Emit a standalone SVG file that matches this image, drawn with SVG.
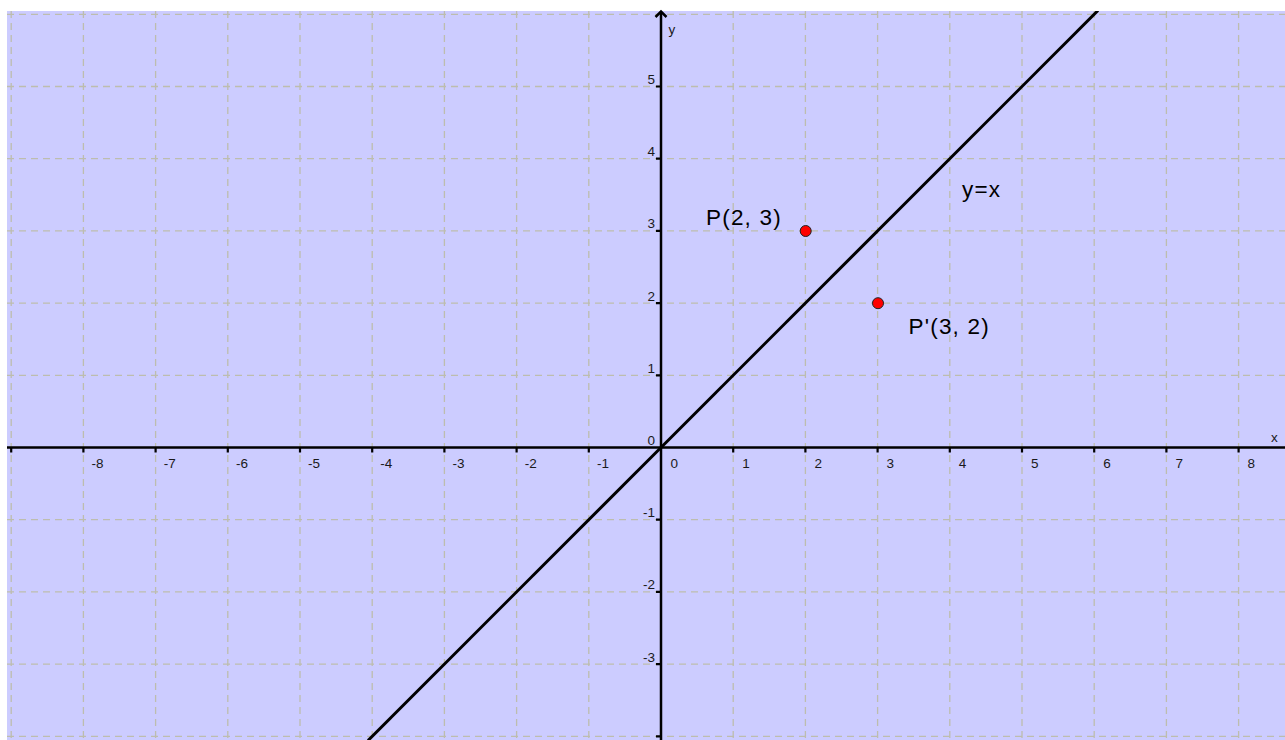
<svg xmlns="http://www.w3.org/2000/svg" width="1285" height="740" viewBox="0 0 1285 740">
<style>
.grid{stroke:#bdbdae;stroke-width:1.3;stroke-dasharray:7,5;fill:none}
.axis{stroke:#000;stroke-width:2.5;fill:none}
.tick{stroke:#000;stroke-width:2.2}
.tl{font-family:"Liberation Sans",Arial,sans-serif;font-size:13.5px;fill:#1a1a1a}
.lbl{font-family:"Liberation Sans",Arial,sans-serif;font-size:22.5px;fill:#000;letter-spacing:1.2px}
.pt{fill:#ff0000;stroke:#222;stroke-width:1}
</style>
<defs>
<clipPath id="plot"><rect x="7" y="11" width="1278" height="729"/></clipPath>
</defs>
<rect width="1285" height="740" fill="#ffffff"/>
<rect x="7" y="11" width="1278" height="729" fill="#ccccff"/>
<g id="grid">
<path class="grid" d="M11.2 11V740M83.4 11V740M155.6 11V740M227.8 11V740M300 11V740M372.2 11V740M444.4 11V740M516.6 11V740M588.8 11V740M733.2 11V740M805.4 11V740M877.6 11V740M949.8 11V740M1022 11V740M1094.2 11V740M1166.4 11V740M1238.6 11V740"/>
<path class="grid" d="M7 14.3H1285M7 86.5H1285M7 158.7H1285M7 230.9H1285M7 303.1H1285M7 375.3H1285M7 519.7H1285M7 591.9H1285M7 664.1H1285M7 736.3H1285"/>
</g>
<g id="axes">
<path class="axis" d="M7 447.5H1285"/>
<path class="axis" d="M661 12V740"/>
<polyline class="axis" points="655.5,17 661,11.5 666.5,17"/>
<path class="tick" d="M11.2 447.5v5M83.4 447.5v5M155.6 447.5v5M227.8 447.5v5M300 447.5v5M372.2 447.5v5M444.4 447.5v5M516.6 447.5v5M588.8 447.5v5M733.2 447.5v5M805.4 447.5v5M877.6 447.5v5M949.8 447.5v5M1022 447.5v5M1094.2 447.5v5M1166.4 447.5v5M1238.6 447.5v5"/>
<path class="tick" d="M661 86.5h-5M661 158.7h-5M661 230.9h-5M661 303.1h-5M661 375.3h-5M661 519.7h-5M661 591.9h-5M661 664.1h-5M661 736.3h-5"/>
<text class="tl" x="1271" y="442">x</text>
<text class="tl" x="668.5" y="34">y</text>
<g id="xlabels">
<text class="tl" x="91.5" y="468">-8</text>
<text class="tl" x="163.7" y="468">-7</text>
<text class="tl" x="235.9" y="468">-6</text>
<text class="tl" x="308.1" y="468">-5</text>
<text class="tl" x="380.3" y="468">-4</text>
<text class="tl" x="452.5" y="468">-3</text>
<text class="tl" x="524.7" y="468">-2</text>
<text class="tl" x="596.9" y="468">-1</text>
<text class="tl" x="670.5" y="468">0</text>
<text class="tl" x="742.2" y="468">1</text>
<text class="tl" x="814.4" y="468">2</text>
<text class="tl" x="886.6" y="468">3</text>
<text class="tl" x="958.8" y="468">4</text>
<text class="tl" x="1031" y="468">5</text>
<text class="tl" x="1103.2" y="468">6</text>
<text class="tl" x="1175.4" y="468">7</text>
<text class="tl" x="1247.6" y="468">8</text>
</g>
<g id="ylabels" text-anchor="end">
<text class="tl" x="655" y="84">5</text>
<text class="tl" x="655" y="156.2">4</text>
<text class="tl" x="655" y="228.4">3</text>
<text class="tl" x="655" y="300.6">2</text>
<text class="tl" x="655" y="372.8">1</text>
<text class="tl" x="655" y="445">0</text>
<text class="tl" x="655" y="517.2">-1</text>
<text class="tl" x="655" y="589.4">-2</text>
<text class="tl" x="655" y="661.6">-3</text>
</g>
</g>
<g id="connectors">
<line id="line-yx" x1="368" y1="740.5" x2="1098" y2="10.5" stroke="#000" stroke-width="3" clip-path="url(#plot)"/>
</g>
<g id="label-yx"><text class="lbl" x="962" y="197">y=x</text></g>
<g id="point-P">
<circle class="pt" cx="805.7" cy="231" r="5.5"/>
<text class="lbl" x="706" y="225">P(2, 3)</text>
</g>
<g id="point-P2">
<circle class="pt" cx="878" cy="303.2" r="5.5"/>
<text class="lbl" x="908.5" y="334">P'(3, 2)</text>
</g>
</svg>
